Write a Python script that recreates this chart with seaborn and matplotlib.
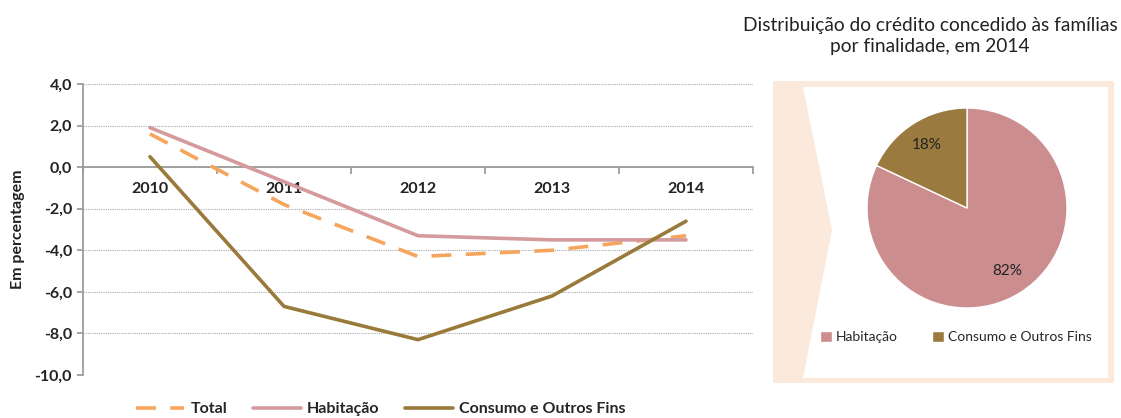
import matplotlib
matplotlib.use("Agg")
import matplotlib.pyplot as plt
from matplotlib.patches import Rectangle, Polygon
from matplotlib.lines import Line2D
import seaborn as sns
import pandas as pd

# Taxas de variação anual do crédito às famílias (%)
anos = ["2010", "2011", "2012", "2013", "2014"]
total = [1.6, -1.8, -4.3, -4.0, -3.3]
habitacao = [1.9, -0.7, -3.3, -3.5, -3.5]
consumo = [0.5, -6.7, -8.3, -6.2, -2.6]

# Distribuição por finalidade em 2014 (%)
finalidades = ["Habitação", "Consumo e Outros Fins"]
quotas = [82, 18]

serie_nomes = ["Total", "Habitação", "Consumo e Outros Fins"]
cores_linhas = {"Total": "#F5A55C", "Habitação": "#D49A9C", "Consumo e Outros Fins": "#9A7A3A"}
estilos = {"Total": (0, (5.5, 4.0)), "Habitação": "-", "Consumo e Outros Fins": "-"}
cores_pie = ["#CC8D8F", "#9A7A3E"]

sns.set_theme(style="white")
plt.rcParams["font.family"] = ["Lato", "DejaVu Sans"]

W, H = 1121, 418
fig = plt.figure(figsize=(W / 100, H / 100), dpi=100)

def fbox(x0, y0, x1, y1):
    return [x0 / W, 1 - y1 / H, (x1 - x0) / W, (y1 - y0) / H]

FS = 11.5

# ---- line chart ----
ax = fig.add_axes(fbox(83, 84, 753, 375))
df = pd.DataFrame({
    "ano": list(range(len(anos))) * 3,
    "valor": total + habitacao + consumo,
    "serie": [s for s in serie_nomes for _ in anos],
})
for nome in serie_nomes:
    sub = df[df["serie"] == nome]
    sns.lineplot(data=sub, x="ano", y="valor", ax=ax, color=cores_linhas[nome],
                 linewidth=2.6, linestyle=estilos[nome], legend=False, zorder=3)

ax.set_xlim(-0.5, len(anos) - 0.5)
ax.set_ylim(-10, 4)
ax.set_yticks(range(-10, 5, 2))
ax.set_yticklabels([f"{v:.1f}".replace(".", ",") for v in range(-10, 5, 2)],
                   fontsize=FS, fontweight="bold", color="#222222")
ax.yaxis.grid(True, linestyle=(0, (1, 1)), color="#AAAAAA", linewidth=0.8)
ax.set_axisbelow(True)
for s in ["top", "right"]:
    ax.spines[s].set_visible(False)
ax.spines["left"].set_color("#999999")
ax.spines["bottom"].set_color("#999999")
ax.spines["bottom"].set_position(("data", 0))
ax.tick_params(axis="y", which="major", left=True, length=4, color="#999999", pad=4)

ax.set_xticks([i - 0.5 for i in range(len(anos) + 1)])
ax.set_xticklabels([])
ax.set_xticks(range(len(anos)), minor=True)
ax.set_xticklabels(anos, minor=True, fontsize=FS, fontweight="bold", color="#222222")
ax.tick_params(axis="x", which="major", bottom=True, length=5, color="#999999", direction="out")
ax.tick_params(axis="x", which="minor", bottom=False, length=0, pad=11)
ax.set_xlabel("")
ax.set_ylabel("Em percentagem", fontsize=FS, fontweight="bold", color="#222222", labelpad=7)

handles = [Line2D([], [], color=cores_linhas[n], linestyle=estilos[n], linewidth=2.6) for n in serie_nomes]
fig.legend(handles, serie_nomes, loc="center", bbox_to_anchor=(381 / W, 1 - 409 / H),
           ncol=3, frameon=False, handlelength=3.0, columnspacing=1.6,
           handletextpad=0.4, prop={"weight": "bold", "size": FS})

# ---- right panel background ----
fig.patches.append(Rectangle((773 / W, 1 - 383 / H), (1114 - 773) / W, (383 - 81) / H,
                             transform=fig.transFigure, facecolor="#FBE9DC", edgecolor="none", zorder=0))
pts = [(803, 87), (1108, 87), (1108, 378), (803, 378), (832, 230)]
fig.patches.append(Polygon([(x / W, 1 - y / H) for x, y in pts], closed=True,
                           transform=fig.transFigure, facecolor="white", edgecolor="none", zorder=0.5))

fig.text(930 / W, 1 - 36 / H, "Distribuição do crédito concedido às famílias\npor finalidade, em 2014",
         ha="center", va="center", fontsize=13.8, color="#222222", linespacing=1.3)

# ---- pie chart ----
pax = fig.add_axes(fbox(867, 108, 1067, 308))
pax.set_zorder(3)
pax.patch.set_alpha(0)
wedges, texts = pax.pie(quotas, colors=cores_pie, startangle=90, counterclock=False,
                        labels=[f"{q}%" for q in quotas], labeldistance=0.75,
                        textprops={"fontsize": 11, "color": "#222222", "ha": "center", "va": "center"})
pax.set_xlim(-1, 1)
pax.set_ylim(-1, 1)
pax.set_aspect("equal")

leg = fig.legend(wedges, finalidades, loc="center", bbox_to_anchor=(956 / W, 1 - 337 / H), ncol=2,
                 frameon=False, fontsize=10, handlelength=0.8, handleheight=0.8,
                 handletextpad=0.3, columnspacing=2.5)
leg.set_zorder(4)

fig.savefig("out.png", dpi=100)
